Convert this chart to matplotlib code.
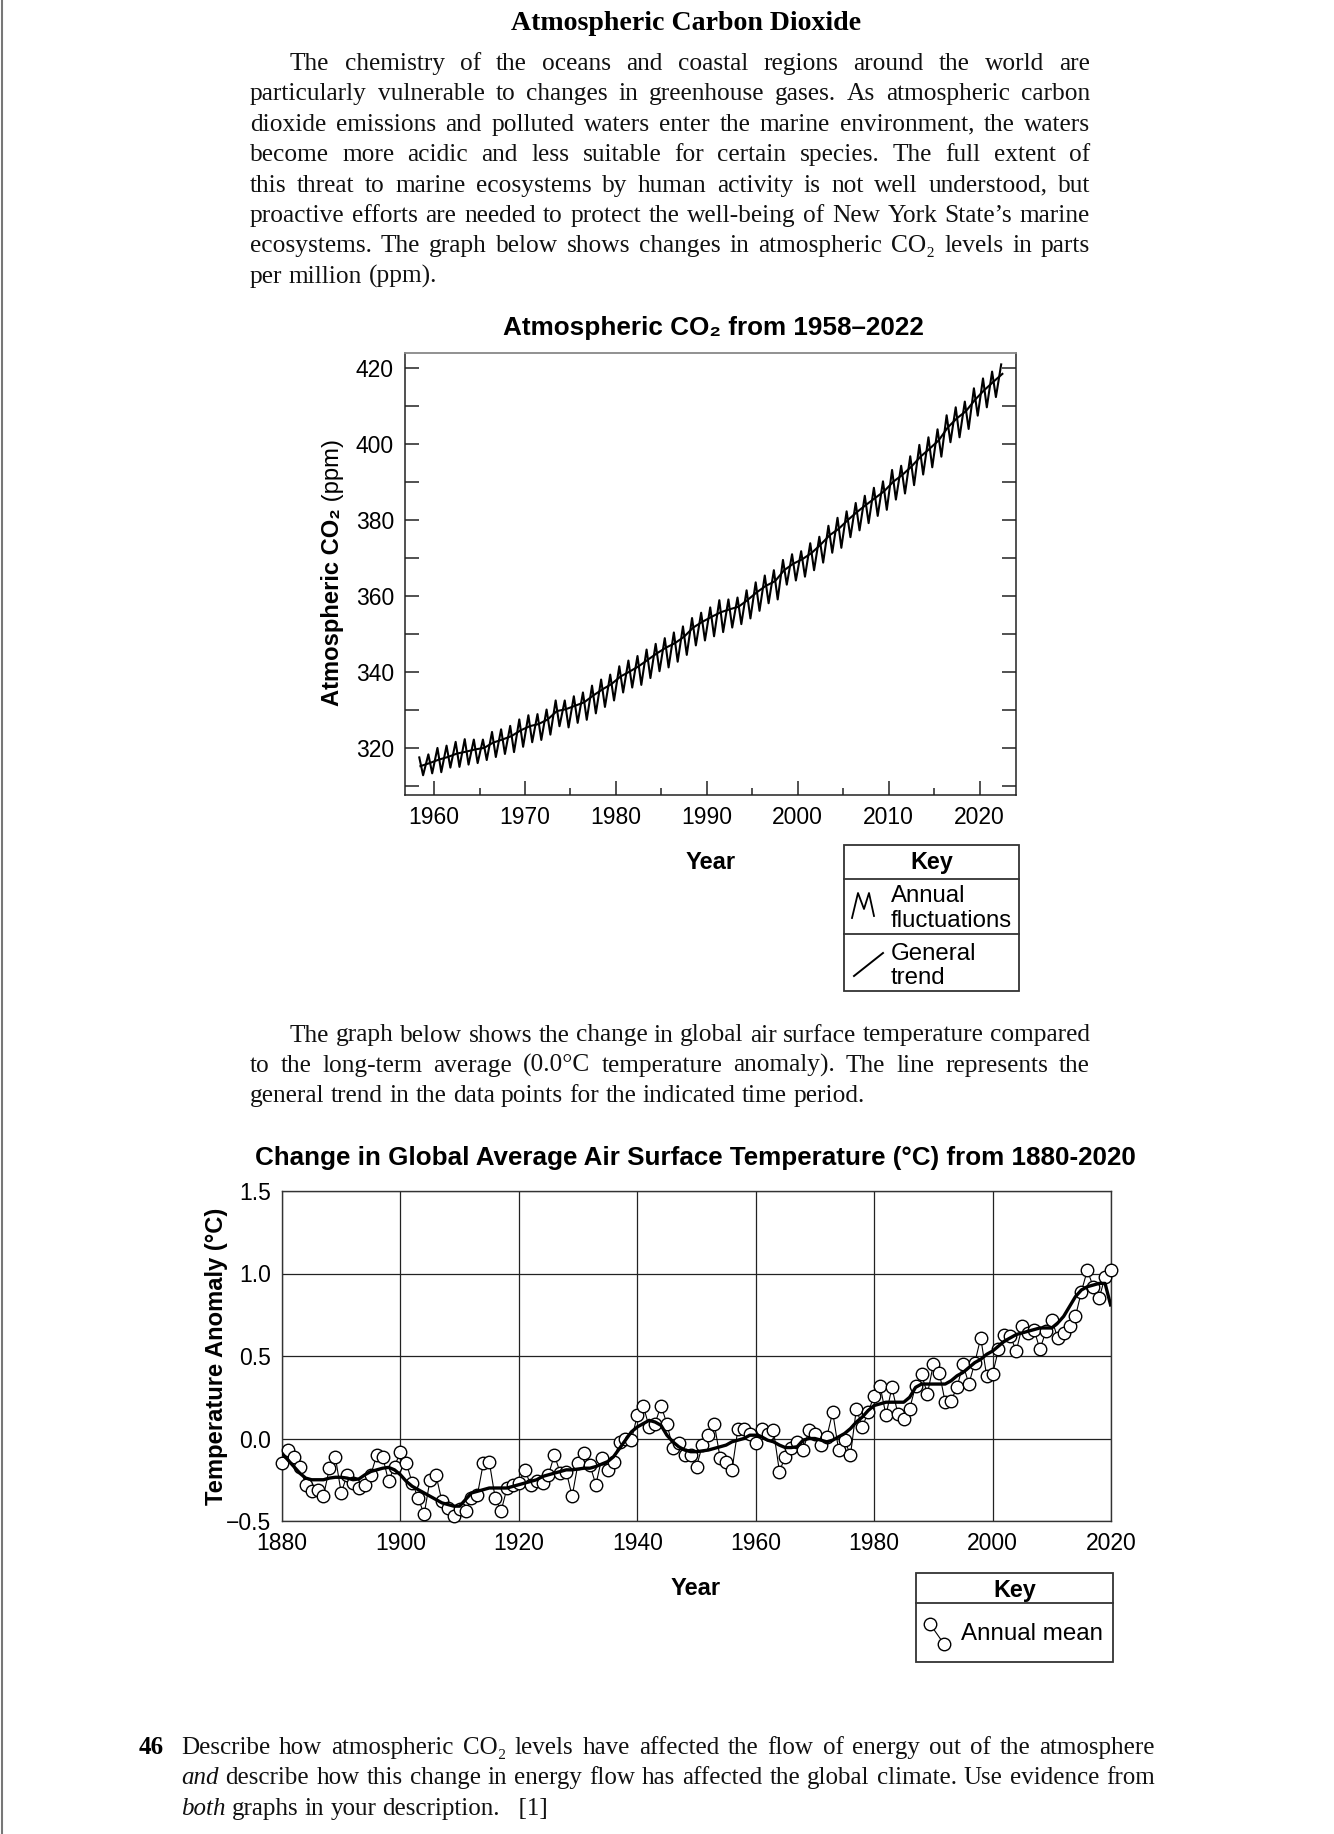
import numpy as np
import matplotlib
matplotlib.use("Agg")
import matplotlib.pyplot as plt
from matplotlib.patches import Rectangle
from matplotlib.ticker import FixedLocator, MultipleLocator

W, H = 1334, 1834
SERIF = ['Liberation Serif', 'DejaVu Serif']
SANS = ['Liberation Sans', 'DejaVu Sans']

# ---------------- data ----------------
co2_years = list(range(1958, 2023))
co2_may_peak = [317.5, 318.3, 320.0, 320.6, 321.6, 322.3, 322.2, 322.2, 324.2, 324.9,
                325.8, 327.5, 328.6, 328.9, 330.1, 332.5, 332.5, 333.6, 334.6, 336.4,
                338.0, 339.3, 341.5, 343.0, 344.2, 345.9, 347.4, 348.9, 350.4, 352.0,
                354.2, 355.6, 357.0, 358.9, 359.1, 359.6, 361.5, 363.6, 365.4, 366.8,
                369.5, 371.0, 371.8, 373.9, 375.6, 378.5, 380.6, 382.3, 384.5, 386.4,
                388.5, 390.2, 393.2, 394.3, 396.8, 399.8, 401.8, 403.9, 407.6, 409.7,
                411.2, 414.7, 417.3, 419.1, 421.0]
co2_oct_low = [312.8, 313.3, 313.6, 314.8, 315.0, 315.6, 316.0, 316.8, 317.6, 318.4,
               318.9, 320.3, 321.5, 322.1, 323.5, 325.7, 325.4, 326.6, 327.4, 329.1,
               330.8, 332.5, 334.6, 335.9, 336.6, 338.4, 340.2, 341.2, 342.7, 344.5,
               347.0, 348.3, 349.4, 350.5, 351.7, 352.6, 354.1, 356.1, 358.1, 359.1,
               363.0, 364.1, 365.1, 366.8, 368.8, 371.4, 372.7, 375.5, 377.3, 379.2,
               381.1, 382.7, 385.4, 387.0, 389.2, 392.0, 393.9, 396.7, 400.5, 401.8,
               404.0, 407.5, 409.7, 412.4]
co2_trend = [315.2, 316.0, 316.9, 317.6, 318.5, 319.0, 319.6, 320.0, 321.4, 322.2,
             323.1, 324.6, 325.7, 326.3, 327.5, 329.7, 330.2, 331.1, 332.0, 333.8,
             335.4, 336.8, 338.8, 340.1, 341.5, 343.2, 344.9, 346.4, 347.6, 349.3,
             351.7, 353.2, 354.5, 355.7, 356.5, 357.2, 359.0, 361.0, 362.7, 363.9,
             366.8, 368.5, 369.7, 371.3, 373.5, 376.0, 377.7, 380.0, 382.1, 384.0,
             385.8, 387.6, 390.1, 391.9, 394.1, 396.7, 398.8, 401.0, 404.4, 406.8,
             408.7, 411.7, 414.2, 416.4, 418.5]
co2_xticks = [1960, 1970, 1980, 1990, 2000, 2010, 2020]
co2_yticks = [320, 340, 360, 380, 400, 420]

temp_years = list(range(1880, 2021))
temp_annual = [-0.15, -0.07, -0.11, -0.17, -0.28, -0.32, -0.31, -0.35, -0.18, -0.11,
               -0.33, -0.22, -0.27, -0.30, -0.28, -0.22, -0.10, -0.11, -0.26, -0.17,
               -0.08, -0.15, -0.27, -0.36, -0.46, -0.25, -0.22, -0.38, -0.42, -0.47,
               -0.43, -0.44, -0.36, -0.34, -0.15, -0.14, -0.36, -0.44, -0.30, -0.28,
               -0.27, -0.19, -0.28, -0.26, -0.27, -0.22, -0.10, -0.21, -0.20, -0.35,
               -0.15, -0.09, -0.16, -0.28, -0.12, -0.19, -0.14, -0.02, 0.00, -0.01,
               0.14, 0.20, 0.07, 0.09, 0.20, 0.09, -0.06, -0.03, -0.10, -0.10,
               -0.17, -0.04, 0.02, 0.09, -0.12, -0.14, -0.19, 0.06, 0.06, 0.03,
               -0.03, 0.06, 0.03, 0.05, -0.20, -0.11, -0.06, -0.02, -0.07, 0.05,
               0.03, -0.04, 0.01, 0.16, -0.07, -0.01, -0.10, 0.18, 0.07, 0.16,
               0.26, 0.32, 0.14, 0.31, 0.15, 0.12, 0.18, 0.32, 0.39, 0.27,
               0.45, 0.40, 0.22, 0.23, 0.31, 0.45, 0.33, 0.46, 0.61, 0.38,
               0.39, 0.54, 0.63, 0.62, 0.53, 0.68, 0.64, 0.66, 0.54, 0.65,
               0.72, 0.61, 0.64, 0.68, 0.74, 0.89, 1.02, 0.92, 0.85, 0.98,
               1.02]
temp_trend = [-0.09, -0.13, -0.17, -0.21, -0.24, -0.25, -0.25, -0.25, -0.24, -0.235,
              -0.235, -0.24, -0.25, -0.245, -0.22, -0.20, -0.19, -0.18, -0.175, -0.19,
              -0.22, -0.26, -0.29, -0.31, -0.33, -0.35, -0.37, -0.39, -0.40, -0.41,
              -0.41, -0.37, -0.33, -0.32, -0.31, -0.30, -0.30, -0.30, -0.30, -0.29,
              -0.28, -0.27, -0.26, -0.25, -0.23, -0.22, -0.21, -0.20, -0.19, -0.19,
              -0.185, -0.18, -0.18, -0.17, -0.155, -0.14, -0.11, -0.06, -0.01, 0.04,
              0.07, 0.09, 0.11, 0.10, 0.08, 0.02, -0.02, -0.05, -0.07, -0.08,
              -0.08, -0.075, -0.07, -0.06, -0.05, -0.04, -0.02, -0.01, 0.00, 0.02,
              0.02, 0.01, -0.01, -0.02, -0.04, -0.055, -0.055, -0.05, -0.01, 0.00,
              0.00, -0.01, -0.02, -0.01, 0.01, 0.03, 0.06, 0.10, 0.13, 0.17,
              0.20, 0.21, 0.22, 0.22, 0.22, 0.22, 0.25, 0.31, 0.33, 0.33,
              0.33, 0.33, 0.33, 0.35, 0.38, 0.40, 0.43, 0.46, 0.48, 0.51,
              0.53, 0.56, 0.59, 0.61, 0.63, 0.64, 0.65, 0.66, 0.67, 0.67,
              0.67, 0.70, 0.74, 0.80, 0.86, 0.90, 0.92, 0.93, 0.94, 0.94,
              0.80]
temp_xticks = [1880, 1900, 1920, 1940, 1960, 1980, 2000, 2020]
temp_yticks = [-0.5, 0.0, 0.5, 1.0, 1.5]
temp_ytick_labels = ['\u22120.5', '0.0', '0.5', '1.0', '1.5']

PEAK_FRAC = 0.37   # May
LOW_FRAC = 0.79    # October
MEAN_FRAC = 0.5

para1 = [
    "The chemistry of the oceans and coastal regions around the world are",
    "particularly vulnerable to changes in greenhouse gases. As atmospheric carbon",
    "dioxide emissions and polluted waters enter the marine environment, the waters",
    "become more acidic and less suitable for certain species. The full extent of",
    "this threat to marine ecosystems by human activity is not well understood, but",
    "proactive efforts are needed to protect the well-being of New York State\u2019s marine",
    "ecosystems. The graph below shows changes in atmospheric CO\u2082 levels in parts",
    "per million (ppm).",
]
para2 = [
    "The graph below shows the change in global air surface temperature compared",
    "to the long-term average (0.0\u00b0C temperature anomaly). The line represents the",
    "general trend in the data points for the indicated time period.",
]
question = [
    "Describe how atmospheric CO\u2082 levels have affected the flow of energy out of the atmosphere",
    "*and* describe how this change in energy flow has affected the global climate. Use evidence from",
    "*both* graphs in your description. \u2002[1]",
]

# ---------------- page ----------------
fig = plt.figure(figsize=(W / 100, H / 100), dpi=100)
page = fig.add_axes([0, 0, 1, 1])
page.set_xlim(0, W)
page.set_ylim(H, 0)
page.axis('off')
renderer = fig.canvas.get_renderer()


def text_width(s, **kw):
    t = page.text(0, 0, s, **kw)
    w = t.get_window_extent(renderer).width
    t.remove()
    return w


def fit_size(s, target, **kw):
    return 10 * target / text_width(s, fontsize=10, **kw)


def split_words(line):
    out = []
    for w in line.split(' '):
        if w.startswith('*') and w.endswith('*'):
            out.append((w.strip('*'), 'italic'))
        else:
            out.append((w, 'normal'))
    return out


def block_size(lines, width, size, first_indent=0, fill=0.985):
    # scale the font so the fullest line just fits with plain spaces
    sp = text_width('x x', family=SERIF, fontsize=size) - text_width('xx', family=SERIF, fontsize=size)
    worst = 0
    for i, line in enumerate(lines):
        words = split_words(line)
        nat = sum(text_width(s, family=SERIF, fontsize=size, style=st) for s, st in words)
        nat += sp * (len(words) - 1)
        avail = width - (first_indent if i == 0 else 0)
        worst = max(worst, nat / avail)
    return size * fill / worst


def draw_block(lines, x0, x1, y0, pitch, size, first_indent=0, justify_last=False):
    sp = text_width('x x', family=SERIF, fontsize=size) - text_width('xx', family=SERIF, fontsize=size)
    for i, line in enumerate(lines):
        words = split_words(line)
        widths = [text_width(s, family=SERIF, fontsize=size, style=st) for s, st in words]
        left = x0 + (first_indent if i == 0 else 0)
        last = i == len(lines) - 1
        if (not last or justify_last) and len(words) > 1:
            gap = (x1 - left - sum(widths)) / (len(words) - 1)
        else:
            gap = sp
        x = left
        y = y0 + i * pitch
        for (s, st), w in zip(words, widths):
            page.text(x, y, s, family=SERIF, fontsize=size, style=st,
                      ha='left', va='baseline', color='#111')
            x += w + gap


def px_rect(left, top, right, bottom):
    return [left / W, 1 - bottom / H, (right - left) / W, (bottom - top) / H]


# page edge
page.plot([1.5, 1.5], [0, H], color='#777', lw=1.5)

# heading and text blocks
ts = fit_size('Atmospheric Carbon Dioxide', 351, family=SERIF, weight='bold')
page.text(686, 30, 'Atmospheric Carbon Dioxide', family=SERIF, weight='bold',
          fontsize=ts, ha='center', va='baseline')

body = block_size(para1[:-1] + para2[:-1], 840, 16, first_indent=40)
draw_block(para1, 250, 1090, 70, 30.4, body, first_indent=40)
draw_block(para2, 250, 1090, 1041.5, 30.4, body, first_indent=40)

qs = block_size(question[:2], 974, body)
page.text(139, 1754, '46', family=SERIF, weight='bold', fontsize=qs, ha='left', va='baseline')
draw_block(question, 181, 1155, 1754, 30.4, qs)

# ---------------- CO2 chart ----------------
ax1 = fig.add_axes(px_rect(405, 353, 1016, 795))
xs, ys = [], []
for i, yr in enumerate(co2_years):
    xs.append(yr + PEAK_FRAC)
    ys.append(co2_may_peak[i])
    if i < len(co2_oct_low):
        xs.append(yr + LOW_FRAC)
        ys.append(co2_oct_low[i])
ax1.plot(xs, ys, color='black', lw=1.5)
ax1.plot(np.array(co2_years) + MEAN_FRAC, co2_trend, color='black', lw=1.5)
ax1.set_xlim(1956.8, 2024.0)
ax1.set_ylim(307.6, 424.0)
ax1.xaxis.set_major_locator(FixedLocator(co2_xticks))
ax1.xaxis.set_minor_locator(MultipleLocator(5))
ax1.yaxis.set_major_locator(FixedLocator(co2_yticks))
ax1.yaxis.set_minor_locator(FixedLocator([v - 10 for v in co2_yticks]))
ax1.tick_params(which='both', direction='in', top=False, right=True, width=1.1, color='#222')
ax1.tick_params(which='major', length=10, pad=8)
ax1.tick_params(axis='x', which='minor', length=5)
ax1.tick_params(axis='y', which='minor', length=10)
for lab in ax1.get_xticklabels() + ax1.get_yticklabels():
    lab.set_family(SANS)
    lab.set_fontsize(16.5)
for side in ['left', 'right', 'bottom']:
    ax1.spines[side].set_color('#222')
    ax1.spines[side].set_linewidth(1.1)
ax1.spines['top'].set_color('#888')
ax1.spines['top'].set_linewidth(1.3)

s = fit_size('Atmospheric CO\u2082 from 1958\u20132022', 421, family=SANS, weight='bold')
page.text(713, 335, 'Atmospheric CO\u2082 from 1958\u20132022', family=SANS, weight='bold',
          fontsize=s, ha='center', va='baseline')

part1, part2 = 'Atmospheric CO\u2082', ' (ppm)'
w1 = text_width(part1, family=SANS, weight='bold', fontsize=10)
w2 = text_width(part2, family=SANS, fontsize=10)
ls = 10 * 267 / (w1 + w2)
w1, w2 = w1 * ls / 10, w2 * ls / 10
y_start = 573 + (w1 + w2) / 2
page.text(339, y_start, part1, family=SANS, weight='bold', fontsize=ls,
          rotation=90, rotation_mode='anchor', ha='left', va='baseline')
page.text(339, y_start - w1, part2, family=SANS, fontsize=ls,
          rotation=90, rotation_mode='anchor', ha='left', va='baseline')

ys_ = fit_size('Year', 50, family=SANS, weight='bold')
page.text(711, 869, 'Year', family=SANS, weight='bold', fontsize=ys_, ha='center', va='baseline')

# key for CO2 chart
kc = '#333'
page.add_patch(Rectangle((844, 845), 175, 146, fill=False, ec=kc, lw=1.3))
page.plot([844, 1019], [879, 879], color=kc, lw=1.3)
page.plot([844, 1019], [934, 934], color=kc, lw=1.3)
ks = fit_size('Key', 43, family=SANS, weight='bold')
page.text(931.5, 869, 'Key', family=SANS, weight='bold', fontsize=ks, ha='center', va='baseline')
fs = fit_size('fluctuations', 122, family=SANS)
page.text(891, 902, 'Annual', family=SANS, fontsize=fs, ha='left', va='baseline')
page.text(891, 927, 'fluctuations', family=SANS, fontsize=fs, ha='left', va='baseline')
page.text(891, 960, 'General', family=SANS, fontsize=fs, ha='left', va='baseline')
page.text(891, 984, 'trend', family=SANS, fontsize=fs, ha='left', va='baseline')
page.plot([852, 858, 864, 869, 874], [918, 893, 909, 893, 916], color='black', lw=1.3)
page.plot([854, 883], [976, 953], color='black', lw=1.4)

# ---------------- temperature chart ----------------
ax2 = fig.add_axes(px_rect(282, 1191, 1111, 1521))
ax2.plot(temp_years, temp_annual, color='black', lw=0.8, marker='o', ms=9,
         mfc='white', mec='black', mew=1.0, clip_on=False, zorder=3)
ax2.plot(temp_years, temp_trend, color='black', lw=2.4, zorder=4, solid_capstyle='butt')
ax2.set_xlim(1880, 2020)
ax2.set_ylim(-0.5, 1.5)
ax2.set_xticks(temp_xticks)
ax2.set_yticks(temp_yticks)
ax2.set_yticklabels(temp_ytick_labels)
ax2.grid(True, color='#222', lw=0.9)
ax2.set_axisbelow(True)
ax2.tick_params(length=0, pad=8)
for lab in ax2.get_xticklabels() + ax2.get_yticklabels():
    lab.set_family(SANS)
    lab.set_fontsize(16.5)
for side in ax2.spines:
    ax2.spines[side].set_color('#333')
    ax2.spines[side].set_linewidth(1.0)

tt = 'Change in Global Average Air Surface Temperature (\u00b0C) from 1880-2020'
s = fit_size(tt, 880, family=SANS, weight='bold')
page.text(695, 1165, tt, family=SANS, weight='bold', fontsize=s, ha='center', va='baseline')

yl = 'Temperature Anomaly (\u00b0C)'
s = fit_size(yl, 298, family=SANS, weight='bold')
page.text(216, 1356, yl, family=SANS, weight='bold', fontsize=s, rotation=90,
          ha='center', va='center')
page.text(696, 1595, 'Year', family=SANS, weight='bold', fontsize=ys_, ha='center', va='baseline')

# key for temperature chart
page.add_patch(Rectangle((916, 1573), 197, 89, fill=False, ec=kc, lw=1.3))
page.plot([916, 1113], [1603, 1603], color=kc, lw=1.3)
page.text(1014.5, 1597, 'Key', family=SANS, weight='bold', fontsize=ks, ha='center', va='baseline')
ms_ = fit_size('Annual mean', 143, family=SANS)
page.text(961, 1640, 'Annual mean', family=SANS, fontsize=ms_, ha='left', va='baseline')
page.plot([930, 944], [1624, 1644], color='black', lw=0.8, marker='o', ms=9,
          mfc='white', mec='black', mew=1.0)

fig.savefig('out.png', dpi=100)
